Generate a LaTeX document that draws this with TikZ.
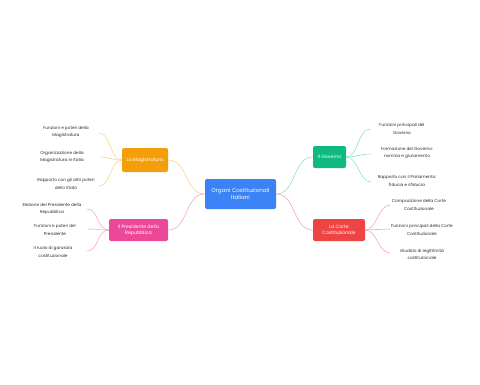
\documentclass[tikz,border=0pt]{standalone}
\usepackage{fontspec}
\setmainfont{Poppins}
\definecolor{cblue}{HTML}{3B82F6}
\definecolor{corange}{HTML}{F59E0B}
\definecolor{cpink}{HTML}{EC4899}
\definecolor{cgreen}{HTML}{10B981}
\definecolor{cred}{HTML}{EF4444}
\definecolor{lorange}{HTML}{FCD38A}
\definecolor{lpink}{HTML}{F7A8CC}
\definecolor{lgreen}{HTML}{8EE3C4}
\definecolor{lred}{HTML}{F9A8A8}
\definecolor{ltext}{HTML}{2B2B2B}
\tikzset{
  topic/.style={rounded corners=2pt, inner sep=0pt, text=white, align=center, font=\fontsize{4.7}{6}\selectfont},
  leaf/.style={inner sep=0pt, text=ltext, align=center, font=\fontsize{4.2}{7.2}\selectfont},
  link/.style={line width=0.6pt},
}
\begin{document}
\begin{tikzpicture}[x=1pt,y=-1pt]
\useasboundingbox[fill=white] (0,0) rectangle (480,384);
% central
\node[topic, fill=cblue, minimum width=71pt, minimum height=30pt, font=\fontsize{5.6}{7.4}\selectfont] (c) at (240.5,194) {Organi Costituzionali\\Italiani};
% branches
\node[topic, fill=corange, minimum width=46pt, minimum height=24pt] (mag) at (145,160) {La Magistratura};
\node[topic, fill=cpink, minimum width=59pt, minimum height=22pt] (pres) at (138.5,230) {Il Presidente della\\Repubblica};
\node[topic, fill=cgreen, minimum width=33pt, minimum height=22pt] (gov) at (329.5,157) {Il Governo};
\node[topic, fill=cred, minimum width=52pt, minimum height=22pt] (corte) at (339,230) {La Corte\\Costituzionale};
% main links
\draw[link, lorange] (c.west) .. controls +(-20,0) and +(20,0) .. (mag.east);
\draw[link, lpink] (c.west) .. controls +(-20,0) and +(20,0) .. (pres.east);
\draw[link, lgreen] (c.east) .. controls +(20,0) and +(-20,0) .. (gov.west);
\draw[link, lred] (c.east) .. controls +(20,0) and +(-20,0) .. (corte.west);
% Magistratura leaves
\node[leaf] (m1) at (66,132) {Funzioni e poteri della\\Magistratura};
\node[leaf] (m2) at (62,157) {Organizzazione della\\Magistratura in Italia};
\node[leaf] (m3) at (66,184) {Rapporto con gli altri poteri\\dello Stato};
\coordinate (m1e) at (99,133);
\coordinate (m2e) at (100,157);
\coordinate (m3e) at (99,186);
\foreach \e in {m1e,m2e,m3e}
  \draw[link, lorange] (mag.west) .. controls +(-12,0) and +(12,0) .. (\e);
% Presidente leaves
\node[leaf] (p1) at (52,209) {Elezione del Presidente della\\Repubblica};
\node[leaf] (p2) at (55,230) {Funzioni e poteri del\\Presidente};
\node[leaf] (p3) at (53,252) {Il ruolo di garanzia\\costituzionale};
\coordinate (p1e) at (87,209);
\coordinate (p2e) at (88,229);
\coordinate (p3e) at (87,251);
\foreach \e in {p1e,p2e,p3e}
  \draw[link, lpink] (pres.west) .. controls +(-12,0) and +(12,0) .. (\e);
% Governo leaves
\node[leaf] (g1) at (402,129) {Funzioni principali del\\Governo};
\node[leaf] (g2) at (407,153) {Formazione del Governo:\\nomina e giuramento};
\node[leaf] (g3) at (407,181) {Rapporto con il Parlamento:\\fiducia e sfiducia};
\coordinate (g1e) at (370,129);
\coordinate (g2e) at (371,154);
\coordinate (g3e) at (371,182);
\foreach \e in {g1e,g2e,g3e}
  \draw[link, lgreen] (gov.east) .. controls +(12,0) and +(-12,0) .. (\e);
% Corte leaves
\node[leaf] (k1) at (419,205) {Composizione della Corte\\Costituzionale};
\node[leaf] (k2) at (422,230) {Funzioni principali della Corte\\Costituzionale};
\node[leaf] (k3) at (422,254) {Giudizio di legittimità\\costituzionale};
\coordinate (k1e) at (390,205);
\coordinate (k2e) at (390,229);
\coordinate (k3e) at (390,253);
\foreach \e in {k1e,k2e,k3e}
  \draw[link, lred] (corte.east) .. controls +(12,0) and +(-12,0) .. (\e);
\end{tikzpicture}
\end{document}
